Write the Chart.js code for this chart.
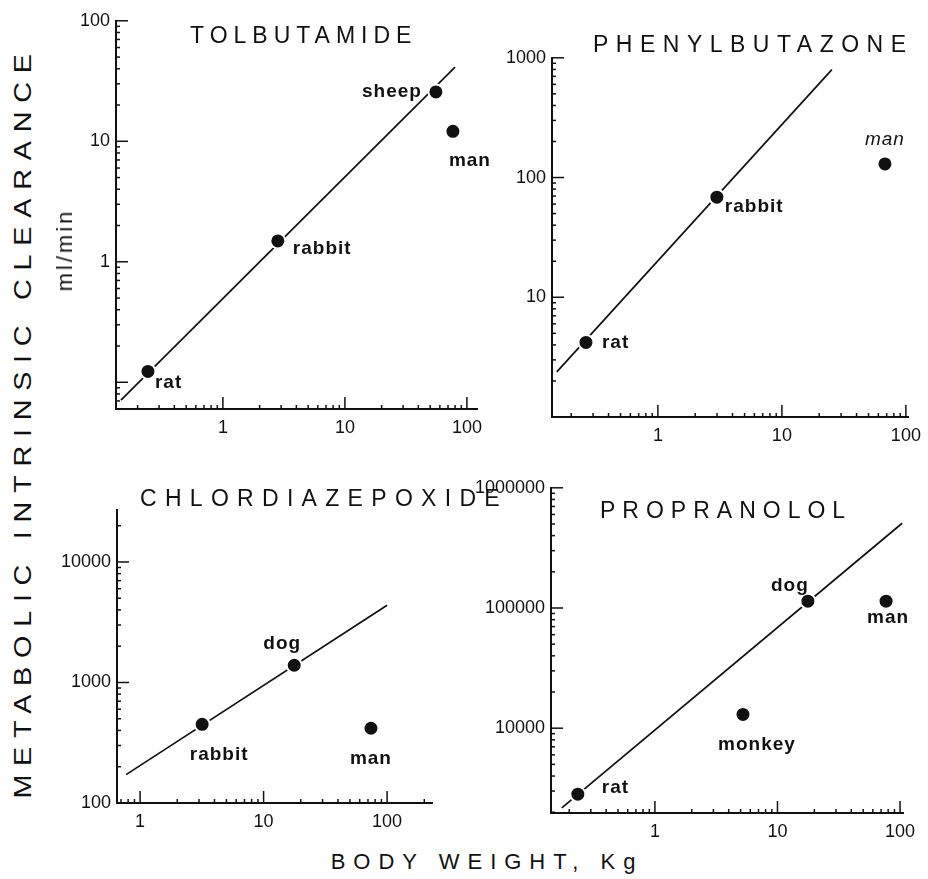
<!DOCTYPE html>
<html>
<head>
<meta charset="utf-8">
<script src="https://cdn.jsdelivr.net/npm/chart.js@4.4.0/dist/chart.umd.min.js"></script>
<style>
    body { margin: 0; background: #fff; }
    #page { position: relative; width: 928px; height: 879px; overflow: hidden; font-family: 'Liberation Sans', Arial, sans-serif; color: #111; }
    canvas { position: absolute; }
    .txt { position: absolute; white-space: nowrap; line-height: 1; }
    .title { font-size: 23px; letter-spacing: 8px; }
    .rot { transform: translate(-50%, -50%) rotate(-90deg); }
</style>
</head>
<body>
<div id="page">
    <div class="txt title" style="left:190px;top:24px;letter-spacing:6px">TOLBUTAMIDE</div>
    <div class="txt title" style="left:593px;top:33px;letter-spacing:7.5px">PHENYLBUTAZONE</div>
    <div class="txt title" style="left:140px;top:487px;letter-spacing:8.3px">CHLORDIAZEPOXIDE</div>
    <div class="txt title" style="left:600px;top:499px;letter-spacing:7px">PROPRANOLOL</div>
    <div class="txt" style="left:23px;top:422px;font-size:23px;letter-spacing:7px;transform:translate(-50%,-50%) rotate(-90deg) scaleX(1.25)">METABOLIC  INTRINSIC  CLEARANCE</div>
    <div class="txt rot" style="left:65px;top:250px;font-size:22px;letter-spacing:3px">ml/min</div>
    <div class="txt" style="left:487px;top:862px;font-size:22px;letter-spacing:8px;transform:translate(-50%,-50%)">BODY WEIGHT, Kg</div>
</div>
<script>
// Tolbutamide
const tolbSpecies = ['rat', 'rabbit', 'sheep', 'man'];
const tolbWeight = [0.243, 2.82, 55.7, 76.8];
const tolbClearance = [0.123, 1.49, 25.7, 12.1];
const tolbFitWeight = [0.146, 80];
const tolbFitClearance = [0.071, 41.2];
const tolbWeightRange = [0.133, 121];
const tolbClearanceRange = [0.06, 100];
const tolbXTicks = [1, 10, 100];
const tolbYTicks = [1, 10, 100];

// Phenylbutazone
const phenSpecies = ['rat', 'rabbit', 'man'];
const phenWeight = [0.263, 2.99, 67.8];
const phenClearance = [4.2, 68.6, 130];
const phenFitWeight = [0.153, 25.3];
const phenFitClearance = [2.38, 796];
const phenWeightRange = [0.14, 104];
const phenClearanceRange = [1, 1000];
const phenXTicks = [1, 10, 100];
const phenYTicks = [10, 100, 1000];

// Chlordiazepoxide
const chloSpecies = ['rabbit', 'dog', 'man'];
const chloWeight = [3.18, 17.7, 74];
const chloClearance = [450, 1390, 417];
const chloFitWeight = [0.77, 100];
const chloFitClearance = [172, 4370];
const chloWeightRange = [0.65, 231];
const chloClearanceRange = [100, 27100];
const chloXTicks = [1, 10, 100];
const chloYTicks = [100, 1000, 10000];

// Propranolol
const propSpecies = ['rat', 'monkey', 'dog', 'man'];
const propWeight = [0.235, 5.23, 17.7, 76.9];
const propClearance = [2825, 13030, 114000, 114000];
const propFitWeight = [0.174, 104];
const propFitClearance = [2170, 507000];
const propWeightRange = [0.142, 105.7];
const propClearanceRange = [1970, 1000000];
const propXTicks = [1, 10, 100];
const propYTicks = [10000, 100000, 1000000];

const FONT = "'Liberation Sans', Arial, sans-serif";
const INK = '#111';
const PAD = {left: 80, top: 12, right: 22, bottom: 36};

// inward tick marks, 1..9 per decade, taken from the scale itself
const inwardTicks = {
    id: 'inwardTicks',
    afterDraw(chart) {
        const ctx = chart.ctx;
        const {left, bottom} = chart.chartArea;
        ctx.save();
        ctx.strokeStyle = INK;
        ctx.lineWidth = 1.5;
        ['x', 'y'].forEach(id => {
            const s = chart.scales[id];
            const lo = Math.floor(Math.log10(s.min));
            const hi = Math.ceil(Math.log10(s.max));
            for (let e = lo; e <= hi; e++) {
                for (let m = 1; m < 10; m++) {
                    const v = m * Math.pow(10, e);
                    if (v < s.min * 0.999 || v > s.max * 1.001) continue;
                    const len = m === 1 ? 12 : 4;
                    const p = s.getPixelForValue(v);
                    ctx.beginPath();
                    if (id === 'x') {
                        ctx.moveTo(p, bottom);
                        ctx.lineTo(p, bottom - len);
                    } else {
                        ctx.moveTo(left, p);
                        ctx.lineTo(left + len, p);
                    }
                    ctx.stroke();
                }
            }
        });
        ctx.restore();
    }
};

function speciesLabels(names, styles) {
    return {
        id: 'speciesLabels',
        afterDatasetsDraw(chart) {
            const ctx = chart.ctx;
            const points = chart.getDatasetMeta(0).data;
            ctx.save();
            ctx.fillStyle = INK;
            ctx.textBaseline = 'middle';
            ctx.letterSpacing = '1px';
            points.forEach((pt, i) => {
                const st = styles[i];
                ctx.font = (st.italic ? 'italic ' : 'bold ') + '19px ' + FONT;
                ctx.textAlign = st.align;
                ctx.fillText(names[i], pt.x + st.dx, pt.y + st.dy);
            });
            ctx.restore();
        }
    };
}

function makePanel(p) {
    const page = document.getElementById('page');
    const canvas = document.createElement('canvas');
    const w = p.area.r - p.area.l + PAD.left + PAD.right;
    const h = p.area.b - p.area.t + PAD.top + PAD.bottom;
    canvas.width = w;
    canvas.height = h;
    canvas.style.width = w + 'px';
    canvas.style.height = h + 'px';
    canvas.style.left = (p.area.l - PAD.left) + 'px';
    canvas.style.top = (p.area.t - PAD.top) + 'px';
    page.insertBefore(canvas, page.firstChild);

    const axis = (range, ticks, isX) => ({
        type: 'logarithmic',
        min: range[0],
        max: range[1],
        grid: {display: false, drawTicks: false},
        border: {display: true, color: INK, width: 2},
        afterBuildTicks: s => { s.ticks = ticks.map(v => ({value: v})); },
        afterFit: s => {
            if (isX) s.height = PAD.bottom;
            else s.width = PAD.left;
        },
        ticks: {
            autoSkip: false,
            maxRotation: 0,
            color: INK,
            padding: isX ? 8 : 6,
            font: {family: FONT, size: 18},
            callback: v => String(v)
        }
    });

    new Chart(canvas, {
        type: 'scatter',
        data: {
            datasets: [
                {
                    data: p.weight.map((x, i) => ({x: x, y: p.clearance[i]})),
                    pointRadius: 7.5,
                    pointHoverRadius: 7.5,
                    pointBackgroundColor: INK,
                    pointBorderColor: '#fff',
                    pointBorderWidth: 2
                },
                {
                    data: p.fitWeight.map((x, i) => ({x: x, y: p.fitClearance[i]})),
                    showLine: true,
                    borderColor: INK,
                    borderWidth: 1.7,
                    pointRadius: 0
                }
            ]
        },
        options: {
            responsive: false,
            animation: false,
            events: [],
            layout: {padding: {top: PAD.top, right: PAD.right, left: 0, bottom: 0}},
            plugins: {legend: {display: false}, tooltip: {enabled: false}},
            scales: {
                x: axis(p.xRange, p.xTicks, true),
                y: axis(p.yRange, p.yTicks, false)
            }
        },
        plugins: [inwardTicks, speciesLabels(p.species, p.labelStyles)]
    });
}

makePanel({
    area: {l: 116, t: 16, r: 477, b: 409},
    species: tolbSpecies, weight: tolbWeight, clearance: tolbClearance,
    fitWeight: tolbFitWeight, fitClearance: tolbFitClearance,
    xRange: tolbWeightRange, yRange: tolbClearanceRange, xTicks: tolbXTicks, yTicks: tolbYTicks,
    labelStyles: [
        {dx: 7, dy: 11, align: 'left'},
        {dx: 15, dy: 8, align: 'left'},
        {dx: -14, dy: 0, align: 'right'},
        {dx: -4, dy: 29, align: 'left'}
    ]
});

makePanel({
    area: {l: 552, t: 53, r: 908, b: 417},
    species: phenSpecies, weight: phenWeight, clearance: phenClearance,
    fitWeight: phenFitWeight, fitClearance: phenFitClearance,
    xRange: phenWeightRange, yRange: phenClearanceRange, xTicks: phenXTicks, yTicks: phenYTicks,
    labelStyles: [
        {dx: 16, dy: 0, align: 'left'},
        {dx: 8, dy: 10, align: 'left'},
        {dx: 0, dy: -24, align: 'center', italic: true}
    ]
});

makePanel({
    area: {l: 117, t: 505, r: 432, b: 803},
    species: chloSpecies, weight: chloWeight, clearance: chloClearance,
    fitWeight: chloFitWeight, fitClearance: chloFitClearance,
    xRange: chloWeightRange, yRange: chloClearanceRange, xTicks: chloXTicks, yTicks: chloYTicks,
    labelStyles: [
        {dx: 17, dy: 30, align: 'center'},
        {dx: -12, dy: -21, align: 'center'},
        {dx: 0, dy: 30, align: 'center'}
    ]
});

makePanel({
    area: {l: 551, t: 483, r: 903, b: 813},
    species: propSpecies, weight: propWeight, clearance: propClearance,
    fitWeight: propFitWeight, fitClearance: propFitClearance,
    xRange: propWeightRange, yRange: propClearanceRange, xTicks: propXTicks, yTicks: propYTicks,
    labelStyles: [
        {dx: 24, dy: -6, align: 'left'},
        {dx: 14, dy: 30, align: 'center'},
        {dx: -18, dy: -15, align: 'center'},
        {dx: 2, dy: 17, align: 'center'}
    ]
});
</script>
</body>
</html>
